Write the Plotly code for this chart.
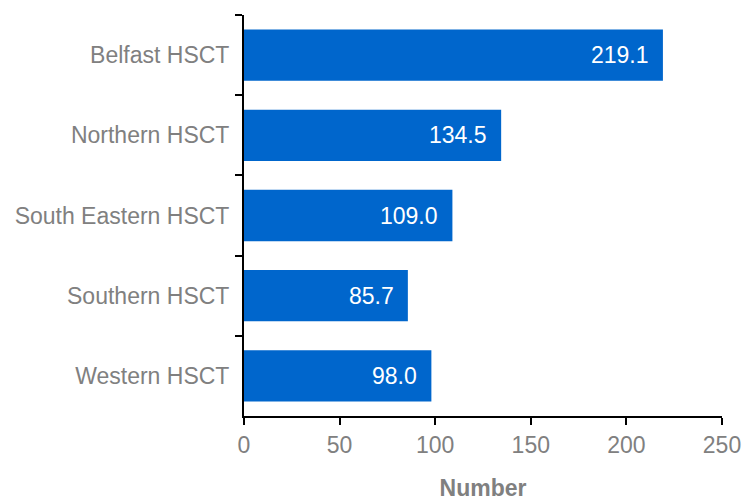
import plotly.graph_objects as go

categories = ["Belfast HSCT", "Northern HSCT", "South Eastern HSCT", "Southern HSCT", "Western HSCT"]
values = [219.1, 134.5, 109.0, 85.7, 98.0]
x_ticks = [0, 50, 100, 150, 200, 250]

gray = "#808080"
font = "Liberation Sans, Arial, sans-serif"
fs = 23

fig = go.Figure()
fig.add_trace(go.Bar(
    y=categories, x=values, orientation="h",
    marker=dict(color="#0066CC", line=dict(width=0)),
    width=0.64,
    hoverinfo="skip",
))
for c, v in zip(categories, values):
    fig.add_annotation(x=v, y=c, text=f"{v:.1f}", showarrow=False,
                       xanchor="right", xshift=-12,
                       font=dict(family=font, size=fs, color="white"))

fig.update_layout(
    width=747, height=501,
    margin=dict(l=244, r=25, t=15, b=85),
    plot_bgcolor="white", paper_bgcolor="white",
    showlegend=False,
)
fig.update_xaxes(
    range=[0, 250], tickvals=x_ticks, ticktext=[str(t) for t in x_ticks],
    automargin=False,
    showgrid=False, zeroline=False,
    showline=True, linecolor="black", linewidth=2,
    ticks="outside", ticklen=7, tickwidth=2, tickcolor="black",
    tickfont=dict(family=font, size=fs, color=gray),
    title=dict(text="<b>Number</b>", font=dict(family=font, size=fs, color=gray), standoff=30),
)
fig.update_yaxes(
    autorange="reversed",
    automargin=False,
    showgrid=False, zeroline=False,
    showline=True, linecolor="black", linewidth=2,
    ticks="outside", tickson="boundaries", ticklen=7, tickwidth=2, tickcolor="black",
    tickfont=dict(family=font, size=fs, color=gray),
    ticklabelstandoff=8,
)

fig.write_html("out.html")
